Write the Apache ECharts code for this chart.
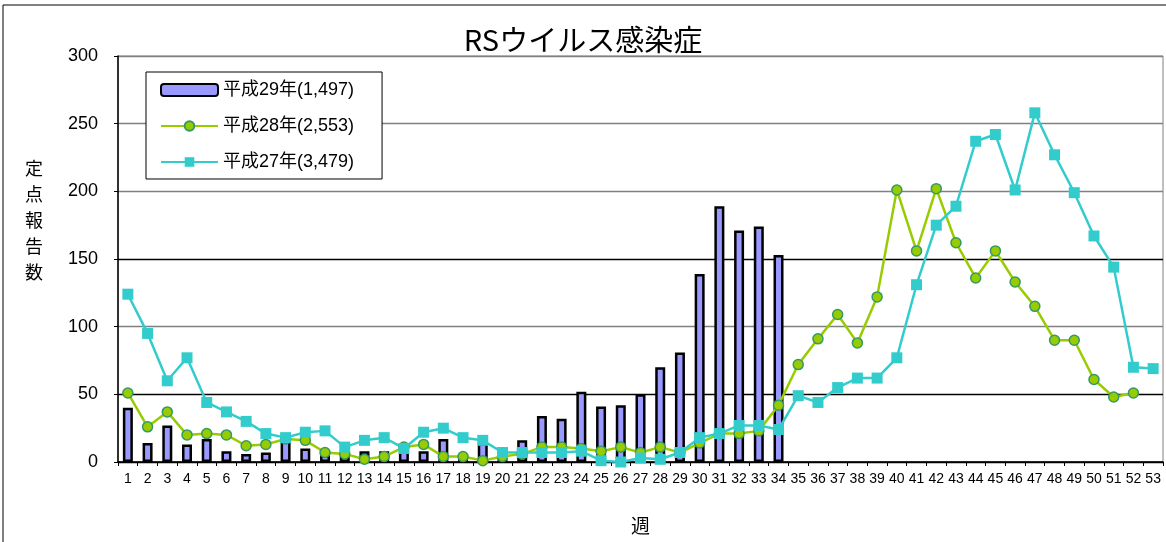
<!DOCTYPE html>
<html>
<head>
<meta charset="utf-8">
<script src="https://cdn.jsdelivr.net/npm/echarts@6/dist/echarts.min.js"></script>
<style>
  html, body { margin: 0; padding: 0; background: #fff; }
  #chart { width: 1166px; height: 542px; }
</style>
</head>
<body>
<div id="chart"></div>
<script>
// 週 1..53
const weeks = [];
for (let i = 1; i <= 53; i++) weeks.push(String(i));

const yTicks = [0, 50, 100, 150, 200, 250, 300];

// 平成29年 (1〜34週)
const h29 = [40, 14, 27, 13, 17, 8, 6, 7, 16, 10, 5, 5, 8, 8, 10, 8, 17, 3, 14, 3,
             16, 34, 32, 52, 41, 42, 50, 70, 81, 139, 189, 171, 174, 153];
// 平成28年 (1〜52週)
const h28 = [51, 26, 37, 20, 21, 20, 12, 13, 17, 16, 7, 6, 2, 4, 11, 13, 4, 4, 1, 4,
             6, 11, 11, 10, 8, 11, 7, 11, 7, 14, 21, 21, 23, 42, 72, 91, 109, 88, 122, 201,
             156, 202, 162, 136, 156, 133, 115, 90, 90, 61, 48, 51];
// 平成27年 (1〜53週)
const h27 = [124, 95, 60, 77, 44, 37, 30, 21, 18, 22, 23, 11, 16, 18, 10, 22, 25, 18, 16, 7,
             7, 7, 7, 8, 1, 0, 3, 2, 7, 18, 21, 27, 27, 24, 49, 44, 55, 62, 62, 77,
             131, 175, 189, 237, 242, 201, 258, 227, 199, 167, 144, 70, 69];

const legendNames = ['平成29年(1,497)', '平成28年(2,553)', '平成27年(3,479)'];

const numFont = "'Liberation Sans', 'Noto Sans CJK JP', sans-serif";
const jpFont = "'Noto Sans CJK JP', sans-serif";

const myChart = echarts.init(document.getElementById('chart'));

const option = {
    animation: false,
    backgroundColor: '#fff',
    title: {
        text: 'RSウイルス感染症',
        left: 'center',
        top: 20,
        textStyle: { fontFamily: jpFont, fontSize: 29, fontWeight: 'normal', color: '#000' }
    },
    legend: {
        orient: 'vertical',
        left: 146,
        top: 72,
        padding: [9, 28, 8, 14],
        itemGap: 18,
        itemWidth: 57,
        itemHeight: 12,
        borderColor: '#000',
        borderWidth: 1,
        backgroundColor: '#fff',
        data: legendNames,
        textStyle: { fontFamily: numFont, fontSize: 18, color: '#000' }
    },
    graphic: [
        {
            type: 'rect',
            shape: { x: 3, y: 5, width: 1300, height: 700 },
            style: { fill: 'none', stroke: '#000', lineWidth: 1 },
            silent: true
        },
        {
            type: 'text',
            left: 25,
            top: 155,
            style: {
                text: '定\n点\n報\n告\n数',
                fontFamily: jpFont,
                fontSize: 18,
                lineHeight: 26,
                fill: '#000'
            }
        }
    ],
    grid: {
        left: 118,
        right: 3,
        top: 56,
        bottom: 80,
        show: true,
        borderColor: '#808080',
        borderWidth: 1
    },
    xAxis: {
        type: 'category',
        data: weeks,
        name: '週',
        nameLocation: 'middle',
        nameGap: 54,
        nameTextStyle: { fontFamily: jpFont, fontSize: 19, color: '#000' },
        axisLine: { lineStyle: { color: '#000', width: 1.5 } },
        axisTick: { show: true, length: 4, lineStyle: { color: '#000' } },
        axisLabel: { interval: 0, fontFamily: numFont, fontSize: 14, color: '#000', margin: 10 }
    },
    yAxis: {
        type: 'value',
        min: yTicks[0],
        max: yTicks[yTicks.length - 1],
        interval: 50,
        axisLine: { show: true, lineStyle: { color: '#000', width: 1.5 } },
        axisTick: { show: true, length: 4, lineStyle: { color: '#000' } },
        axisLabel: { fontFamily: numFont, fontSize: 18, color: '#000', margin: 20 },
        splitLine: {
            show: true,
            lineStyle: {
                color: ['#000', '#000', '#808080', '#000', '#808080', '#808080', '#808080'],
                width: 1.3
            }
        }
    },
    series: [
        {
            name: legendNames[0],
            type: 'bar',
            data: h29,
            barWidth: 10,
            itemStyle: { color: '#9999ff', borderColor: '#000', borderWidth: 2.5 }
        },
        {
            name: legendNames[1],
            type: 'line',
            data: h28,
            symbol: 'circle',
            symbolSize: 10,
            lineStyle: { color: '#99cc00', width: 2.5 },
            itemStyle: { color: '#99cc00', borderColor: '#339966', borderWidth: 1.5 }
        },
        {
            name: legendNames[2],
            type: 'line',
            data: h27,
            symbol: 'rect',
            symbolSize: 11,
            lineStyle: { color: '#33cccc', width: 2.5 },
            itemStyle: { color: '#33cccc' }
        }
    ]
};

myChart.setOption(option);
</script>
</body>
</html>
